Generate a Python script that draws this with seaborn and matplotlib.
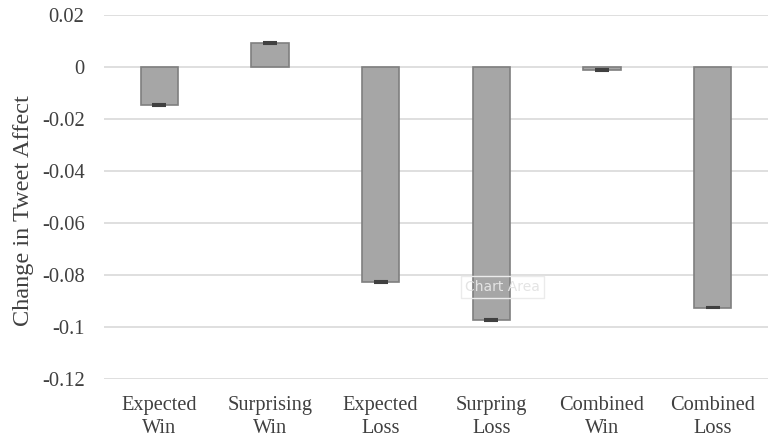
import matplotlib
matplotlib.use("Agg")
import matplotlib.pyplot as plt
import seaborn as sns
import pandas as pd
import numpy as np

categories = ["Expected\nWin", "Surprising\nWin", "Expected\nLoss", "Surpring\nLoss", "Combined\nWin", "Combined\nLoss"]
values = [-0.0146, 0.0093, -0.0827, -0.0973, -0.0011, -0.0925]
errors = [0.0003, 0.0003, 0.0003, 0.0003, 0.0003, 0.0003]
yticks = [0.02, 0, -0.02, -0.04, -0.06, -0.08, -0.1, -0.12]
yticklabels = ["0.02", "0", "-0.02", "-0.04", "-0.06", "-0.08", "-0.1", "-0.12"]

sns.set_theme(style="white")
plt.rcParams['font.family'] = ['Liberation Serif', 'DejaVu Serif']

df = pd.DataFrame({"cat": categories, "val": values})

fig = plt.figure(figsize=(7.73, 4.38), dpi=100)
ax = fig.add_axes([104/773, 1 - 379/438, (768-104)/773, (379-15)/438])

sns.barplot(data=df, x="cat", y="val", color="#a6a6a6", width=0.335,
            edgecolor="#7f7f7f", linewidth=1.2, saturation=1, ax=ax, zorder=3)
ax.errorbar(x=np.arange(len(categories)), y=values, yerr=errors, fmt="none",
            ecolor="#404040", elinewidth=1.5, capsize=5, capthick=1.5, zorder=4)

ax.set_ylim(-0.12, 0.02)
ax.set_yticks(yticks)
ax.set_yticklabels(yticklabels)
ax.set_xlim(-0.5, len(categories) - 0.5)
ax.yaxis.grid(True, color="#d9d9d9", linewidth=1.2, zorder=0)
ax.set_axisbelow(True)
for s in ax.spines.values():
    s.set_visible(False)
ax.tick_params(axis="y", length=0, labelsize=14.8, colors="#404040", pad=14)
ax.tick_params(axis="x", length=0, labelsize=14.7, colors="#404040", pad=12)
for lbl in ax.get_xticklabels():
    lbl.set_linespacing(1.3)
ax.set_xlabel("")
ax.set_ylabel("Change in Tweet Affect", fontsize=17.5, color="#404040")
ax.yaxis.set_label_coords(-0.106, 0.464)

ax.text(3.1, -0.0845, "Chart Area", ha="center", va="center", fontsize=10,
        family=["DejaVu Sans"], color="#e4e4e4", zorder=5,
        bbox=dict(boxstyle="square,pad=0.3", fc="none", ec="#ebebeb", lw=1))

fig.savefig("out.png", dpi=100)
